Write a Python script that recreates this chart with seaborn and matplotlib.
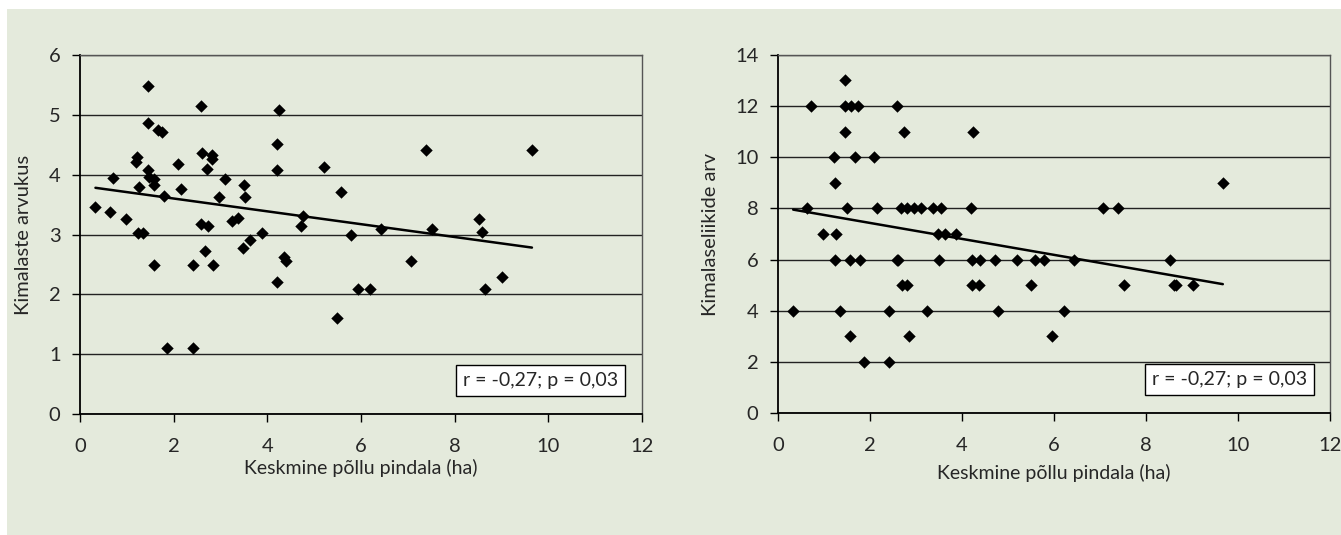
import matplotlib
matplotlib.use("Agg")
import matplotlib.pyplot as plt
import seaborn as sns
import pandas as pd
from matplotlib.patches import Rectangle

# --- data ---
# left panel: bumblebee abundance vs mean field size
abund_x = [0.33, 0.63, 0.71, 0.98, 1.20, 1.22, 1.23, 1.26, 1.35, 1.46,
           1.46, 1.46, 1.48, 1.59, 1.59, 1.59, 1.66, 1.76, 1.79, 1.86,
           2.09, 2.16, 2.41, 2.41, 2.58, 2.59, 2.61, 2.67, 2.72, 2.73,
           2.81, 2.82, 2.85, 2.96, 3.09, 3.24, 3.37, 3.47, 3.50, 3.53,
           3.62, 3.88, 4.20, 4.20, 4.21, 4.25, 4.36, 4.39, 4.71, 4.77,
           5.20, 5.49, 5.57, 5.78, 5.94, 6.20, 6.43, 7.07, 7.38, 7.52,
           8.51, 8.59, 8.65, 9.01, 9.65]
abund_y = [3.46, 3.37, 3.95, 3.26, 4.22, 4.30, 3.03, 3.80, 3.03, 5.49,
           4.86, 4.07, 3.96, 3.92, 3.82, 2.49, 4.74, 4.72, 3.64, 1.10,
           4.18, 3.76, 2.49, 1.10, 3.17, 5.15, 4.36, 2.72, 4.09, 3.14,
           4.33, 4.27, 2.49, 3.62, 3.93, 3.22, 3.27, 2.77, 3.82, 3.62,
           2.90, 3.03, 4.52, 4.07, 2.21, 5.08, 2.63, 2.56, 3.14, 3.31,
           4.13, 1.61, 3.71, 2.99, 2.09, 2.09, 3.10, 2.56, 4.42, 3.10,
           3.26, 3.04, 2.09, 2.29, 4.41]

# right panel: number of bumblebee species vs mean field size
species_x = [1.46,
             0.71, 1.46, 1.58, 1.75, 2.58,
             1.46, 2.73, 4.25,
             1.21, 1.67, 2.09,
             1.24, 9.67,
             0.63, 1.49, 2.15, 2.67, 2.81, 2.96, 3.10, 3.36, 3.54, 4.20, 7.07, 7.39,
             0.98, 1.26, 3.48, 3.63, 3.88,
             1.24, 1.57, 1.78, 2.58, 2.61, 3.51, 4.22, 4.40, 4.72, 5.20, 5.58, 5.78, 6.43, 8.52,
             2.70, 2.81, 4.22, 4.36, 5.49, 7.52, 8.61, 8.65, 9.02,
             0.33, 1.34, 2.42, 3.25, 4.78, 6.21,
             1.57, 2.85, 5.95,
             1.87, 2.42]
species_y = [13,
             12, 12, 12, 12, 12,
             11, 11, 11,
             10, 10, 10,
             9, 9,
             8, 8, 8, 8, 8, 8, 8, 8, 8, 8, 8, 8,
             7, 7, 7, 7, 7,
             6, 6, 6, 6, 6, 6, 6, 6, 6, 6, 6, 6, 6, 6,
             5, 5, 5, 5, 5, 5, 5, 5, 5,
             4, 4, 4, 4, 4, 4,
             3, 3, 3,
             2, 2]

x_label = "Keskmine põllu pindala (ha)"
y_labels = ["Kimalaste arvukus", "Kimalaseliikide arv"]
stat_text = "r = -0,27; p = 0,03"
x_ticks = [0, 2, 4, 6, 8, 10, 12]
y_ticks = [[0, 1, 2, 3, 4, 5, 6], [0, 2, 4, 6, 8, 10, 12, 14]]

BG = "#E4EADC"

sns.set_style("ticks")
plt.rcParams["font.family"] = ["Lato", "DejaVu Sans"]

fig = plt.figure(figsize=(13.41, 5.35), dpi=100, facecolor="white")
# green panel with a thin white margin on top/left
fig.patches.append(Rectangle((7 / 1341, 0), 1, 1 - 9 / 535,
                             transform=fig.transFigure, facecolor=BG,
                             edgecolor="none", zorder=-1))

ax1 = fig.add_axes([80 / 1341, 1 - 414 / 535, 562 / 1341, 359 / 535])
ax2 = fig.add_axes([778 / 1341, 1 - 413.3 / 535, 552 / 1341, 358.6 / 535])

panels = [
    (ax1, pd.DataFrame({"x": abund_x, "y": abund_y})),
    (ax2, pd.DataFrame({"x": species_x, "y": species_y})),
]

for i, (ax, df) in enumerate(panels):
    ax.set_facecolor(BG)
    sns.regplot(data=df, x="x", y="y", ax=ax, ci=None, truncate=True,
                marker="D", color="black",
                scatter_kws={"s": 40, "alpha": 1, "linewidths": 0, "zorder": 3},
                line_kws={"linewidth": 1.8, "zorder": 4})

    ax.set_xlim(0, 12)
    ax.set_ylim(y_ticks[i][0], y_ticks[i][-1])
    ax.set_xticks(x_ticks)
    ax.set_yticks(y_ticks[i])
    ax.yaxis.grid(True, color="#222222", linewidth=1.0)
    ax.set_axisbelow(True)

    ax.set_xlabel(x_label, fontsize=14, labelpad=3 + 4 * i)
    ax.set_ylabel(y_labels[i], fontsize=14.5, labelpad=12)
    ax.tick_params(axis="both", labelsize=14.5, length=6, width=1,
                   direction="out", color="black")
    ax.tick_params(axis="x", pad=11)
    ax.tick_params(axis="y", pad=8)

    for side in ["left", "bottom"]:
        ax.spines[side].set_color("black")
        ax.spines[side].set_linewidth(1.3)
    for side in ["top", "right"]:
        ax.spines[side].set_visible(True)
        ax.spines[side].set_color("#555555")
        ax.spines[side].set_linewidth(1.0)

    ax.text(0.958, 0.07, stat_text, transform=ax.transAxes,
            ha="right", va="bottom", fontsize=14, zorder=6,
            bbox=dict(boxstyle="square,pad=0.35", facecolor="white",
                      edgecolor="black", linewidth=1))

fig.savefig("out.png", dpi=100, facecolor=fig.get_facecolor())
